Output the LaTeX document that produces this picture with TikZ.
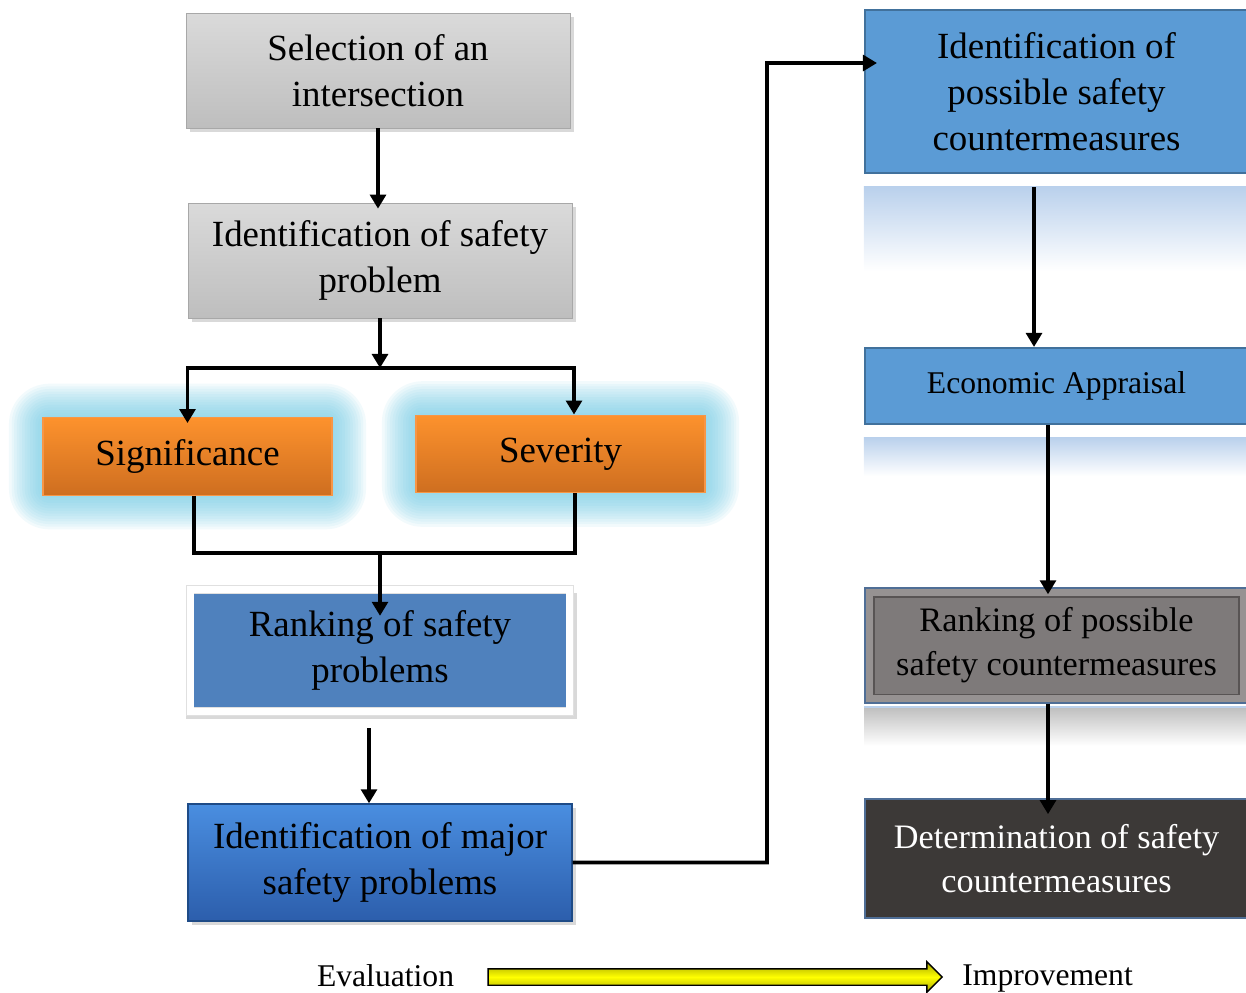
\documentclass[tikz,border=0pt]{standalone}
\usepackage{fontspec}
\setmainfont{Liberation Serif}
\definecolor{grayt}{RGB}{218,218,218}
\definecolor{grayb}{RGB}{190,190,190}
\definecolor{grayline}{RGB}{168,168,168}
\definecolor{oranget}{RGB}{253,146,45}
\definecolor{orangeb}{RGB}{206,110,32}
\definecolor{orangeline}{RGB}{247,150,70}
\definecolor{glowblue}{RGB}{110,200,226}
\definecolor{rankblue}{RGB}{79,129,189}
\definecolor{majort}{RGB}{74,142,224}
\definecolor{majorb}{RGB}{44,94,172}
\definecolor{majorline}{RGB}{30,75,135}
\definecolor{skyblue}{RGB}{91,155,213}
\definecolor{skyline}{RGB}{65,113,156}
\definecolor{rankgray}{RGB}{126,122,122}
\definecolor{bevelband}{RGB}{150,146,146}
\definecolor{bevelline}{RGB}{88,84,84}
\definecolor{darkbox}{RGB}{60,57,55}
\definecolor{darkline}{RGB}{79,110,150}
\definecolor{reflblue}{RGB}{185,208,236}
\definecolor{reflgray}{RGB}{190,190,190}
\definecolor{arrowolive}{RGB}{165,165,0}
\usetikzlibrary{arrows.meta,positioning,shapes.arrows,shadows,backgrounds,calc}

\tikzset{
  arr/.style={-{Triangle[length=8pt,width=9pt]},line width=2.2pt},
  conn/.style={line width=2.2pt},
  basebox/.style={align=center,inner sep=0pt,minimum width=7.68cm,
    font=\fontsize{21}{26}\selectfont},
  graybox/.style={basebox,draw=grayline,top color=grayt,bottom color=grayb,
    minimum height=2.3cm,
    drop shadow={shadow xshift=2.5pt,shadow yshift=-2.5pt,opacity=0.3}},
  orangebox/.style={basebox,draw=orangeline,line width=0.8pt,
    top color=oranget,bottom color=orangeb,minimum width=5.78cm,minimum height=1.55cm},
  rankbox/.style={basebox,fill=rankblue,draw=black!12,double=white,
    double distance=4pt,line width=0.5pt,minimum width=7.6cm,minimum height=2.45cm,
    drop shadow={shadow xshift=1pt,shadow yshift=-3pt,shadow scale=1.03,opacity=0.3}},
  majorbox/.style={basebox,draw=majorline,line width=0.8pt,
    top color=majort,bottom color=majorb,minimum height=2.34cm,
    drop shadow={shadow xshift=2.5pt,shadow yshift=-2.5pt,opacity=0.3}},
  skybox/.style={basebox,fill=skyblue,draw=skyline,line width=1.2pt,minimum width=7.66cm},
  bevelbox/.style={basebox,fill=bevelband,draw=darkline,line width=0.8pt,
    minimum width=7.66cm,minimum height=2.3cm,font=\fontsize{19.5}{25}\selectfont,
    path picture={\draw[fill=rankgray,draw=bevelline,line width=0.8pt]
      ([shift={(5pt,-5pt)}]path picture bounding box.north west) rectangle
      ([shift={(-5pt,5pt)}]path picture bounding box.south east);}},
  darkbox/.style={basebox,fill=darkbox,draw=darkline,line width=1pt,text=white,
    minimum width=7.66cm,minimum height=2.38cm,font=\fontsize{19.5}{25}\selectfont},
  yarrowst/.style={single arrow,draw=black,line width=0.8pt,
    top color=arrowolive,bottom color=arrowolive,middle color=yellow,
    minimum height=9.08cm,inner sep=0pt,inner ysep=0.15cm,
    single arrow head extend=0.14cm},
  lbl/.style={font=\fontsize{18}{22}\selectfont,inner sep=0pt,text depth=0.22em}
}

\begin{document}
\begin{tikzpicture}[x=0.02cm,y=-0.02cm]
  \useasboundingbox (0,0) rectangle (1246,992);

  % evaluation side
  \node[graybox] (select) at (378,70.5) {Selection of an\\intersection};
  \node[graybox] (ident) at (380,260.5) {Identification of safety\\problem};
  \node[orangebox] (signif) at (187.5,456.5) {Significance};
  \node[orangebox] (sever) at (560.5,454) {Severity};
  \node[rankbox] (rank) at (380,650.5) {Ranking of safety\\problems};
  \node[majorbox] (major) at (380,862.5) {Identification of major\\safety problems};

  % glow behind the two criteria
  \begin{scope}[on background layer]
    \foreach \n in {signif,sever}
      \foreach \r in {1,2.5,...,20}
        \fill[glowblue,opacity=0.085,rounded corners=\r pt+4pt]
          ([shift={(-\r pt,-\r pt)}]\n.south west) rectangle ([shift={(\r pt,\r pt)}]\n.north east);
  \end{scope}

  % improvement side
  \node[skybox,minimum height=3.26cm] (possib) at (1056.5,91.5) {Identification of\\possible safety\\countermeasures};
  \node[skybox,minimum height=1.52cm,font=\fontsize{18}{22}\selectfont] (econ) at (1056.5,386) {Economic Appraisal};
  \node[bevelbox] (rankpos) at (1056.5,645.5) {Ranking of possible\\safety countermeasures};
  \node[darkbox] (determ) at (1056.5,858.5) {Determination of safety\\countermeasures};

  % reflections
  \shade[top color=reflblue,bottom color=white] ($(possib.south west)+(0,12)$) rectangle ($(possib.south east)+(0,97)$);
  \shade[top color=reflblue,bottom color=white] ($(econ.south west)+(0,12)$) rectangle ($(econ.south east)+(0,51)$);
  \shade[top color=reflgray,bottom color=white] ($(rankpos.south west)+(0,3)$) rectangle ($(rankpos.south east)+(0,42)$);
  \draw[reflblue,line width=1pt] ($(rankpos.south west)+(0,3)$) -- ($(rankpos.south east)+(0,3)$);

  \coordinate (split) at (380,368);
  \coordinate (merge) at (380,553);
  \coordinate (bend) at (767,63);

  % connectors
  \draw[arr] (select.south) -- ([yshift=-0.12cm]select.south |- ident.north);
  \draw[arr] (ident.south) -- (split);
  \draw[arr] (split) -| ([yshift=-0.12cm]signif.north);
  \draw[arr] (split) -| ([xshift=0.27cm]sever.north);
  \draw[conn] ([xshift=0.13cm]signif.south) |- (merge);
  \draw[conn] ([xshift=0.29cm]sever.south) |- (merge);
  \draw[arr] (merge) -- ([yshift=-0.54cm]rank.north);
  \draw[arr] ([xshift=-0.22cm,yshift=-0.32cm]rank.south) -- ([xshift=-0.22cm]major.north);
  \draw[arr] (major.east) -| (bend) -- ([xshift=0.26cm,yshift=0.57cm]possib.west);
  \draw[arr] ([xshift=-0.45cm,yshift=-0.26cm]possib.south) -- ([xshift=-0.45cm]econ.north);
  \draw[arr] ([xshift=-0.17cm]econ.south) -- ([xshift=-0.17cm,yshift=-0.14cm]rankpos.north);
  \draw[arr] ([xshift=-0.17cm]rankpos.south) -- ([xshift=-0.17cm,yshift=-0.32cm]determ.north);

  % legend
  \node[yarrowst] (yarrow) at (711,977) {};
  \node[lbl,left=0.66cm of yarrow] (evalu) {Evaluation};
  \node[lbl,right=0.38cm of yarrow] (improv) {Improvement};
\end{tikzpicture}
\end{document}
